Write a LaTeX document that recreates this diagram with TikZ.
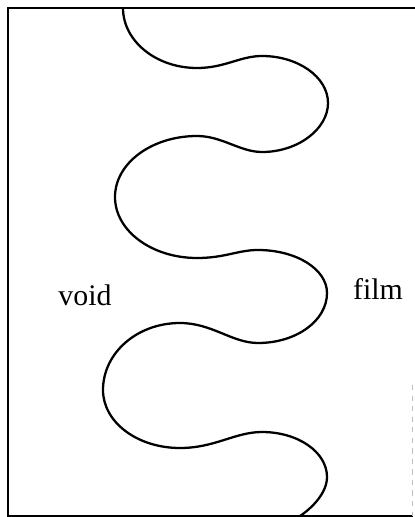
\documentclass[tikz,border=0pt]{standalone}
\usepackage{fontspec}
\setmainfont{Liberation Serif}
\usepackage{tikz}
\usetikzlibrary{positioning, calc}

\tikzset{
    frameline/.style={line width=1.3pt, line cap=rect},
    faintline/.style={very thin, gray!50, dashed},
    wallline/.style={line width=1.3pt, line join=round},
    phasetext/.style={font=\fontsize{17}{20}\selectfont, inner sep=0pt, anchor=base}
}

\begin{document}
\begin{tikzpicture}[x=0.02cm, y=-0.02cm]
    \useasboundingbox (0,0) rectangle (414,517);

    % Draw frame (right side almost lost in the scan)
    \draw[frameline] (414,8) -- (8,8) -- (8,516) -- (412,516);
    \draw[faintline] (412,385) -- (412,516);

    % Draw the wavy void/film boundary
    \draw[wallline] (123,8)
        .. controls (123,41) and (156,68) .. (197,68)
        .. controls (225,68) and (240,56) .. (262,56)
        .. controls (298,56) and (328,77) .. (328,103)
        .. controls (328,129) and (298,152) .. (262,152)
        .. controls (240,152) and (222,136) .. (197,136)
        .. controls (152,136) and (115,163) .. (115,197)
        .. controls (115,231) and (152,258) .. (197,258)
        .. controls (225,258) and (238,250) .. (258,250)
        .. controls (296,250) and (327,269) .. (327,293)
        .. controls (327,321) and (296,343) .. (258,343)
        .. controls (232,343) and (212,323) .. (180,323)
        .. controls (137,323) and (103,353) .. (103,390)
        .. controls (103,422) and (137,448) .. (180,448)
        .. controls (215,448) and (235,432) .. (262,432)
        .. controls (298,432) and (327,452) .. (327,477)
        .. controls (327,493) and (312,508) .. (300,516);

    % Draw phase labels
    \node[phasetext] (void) at (85,305) {void};
    \node[phasetext] (film) at (378,299) {film};

\end{tikzpicture}
\end{document}
